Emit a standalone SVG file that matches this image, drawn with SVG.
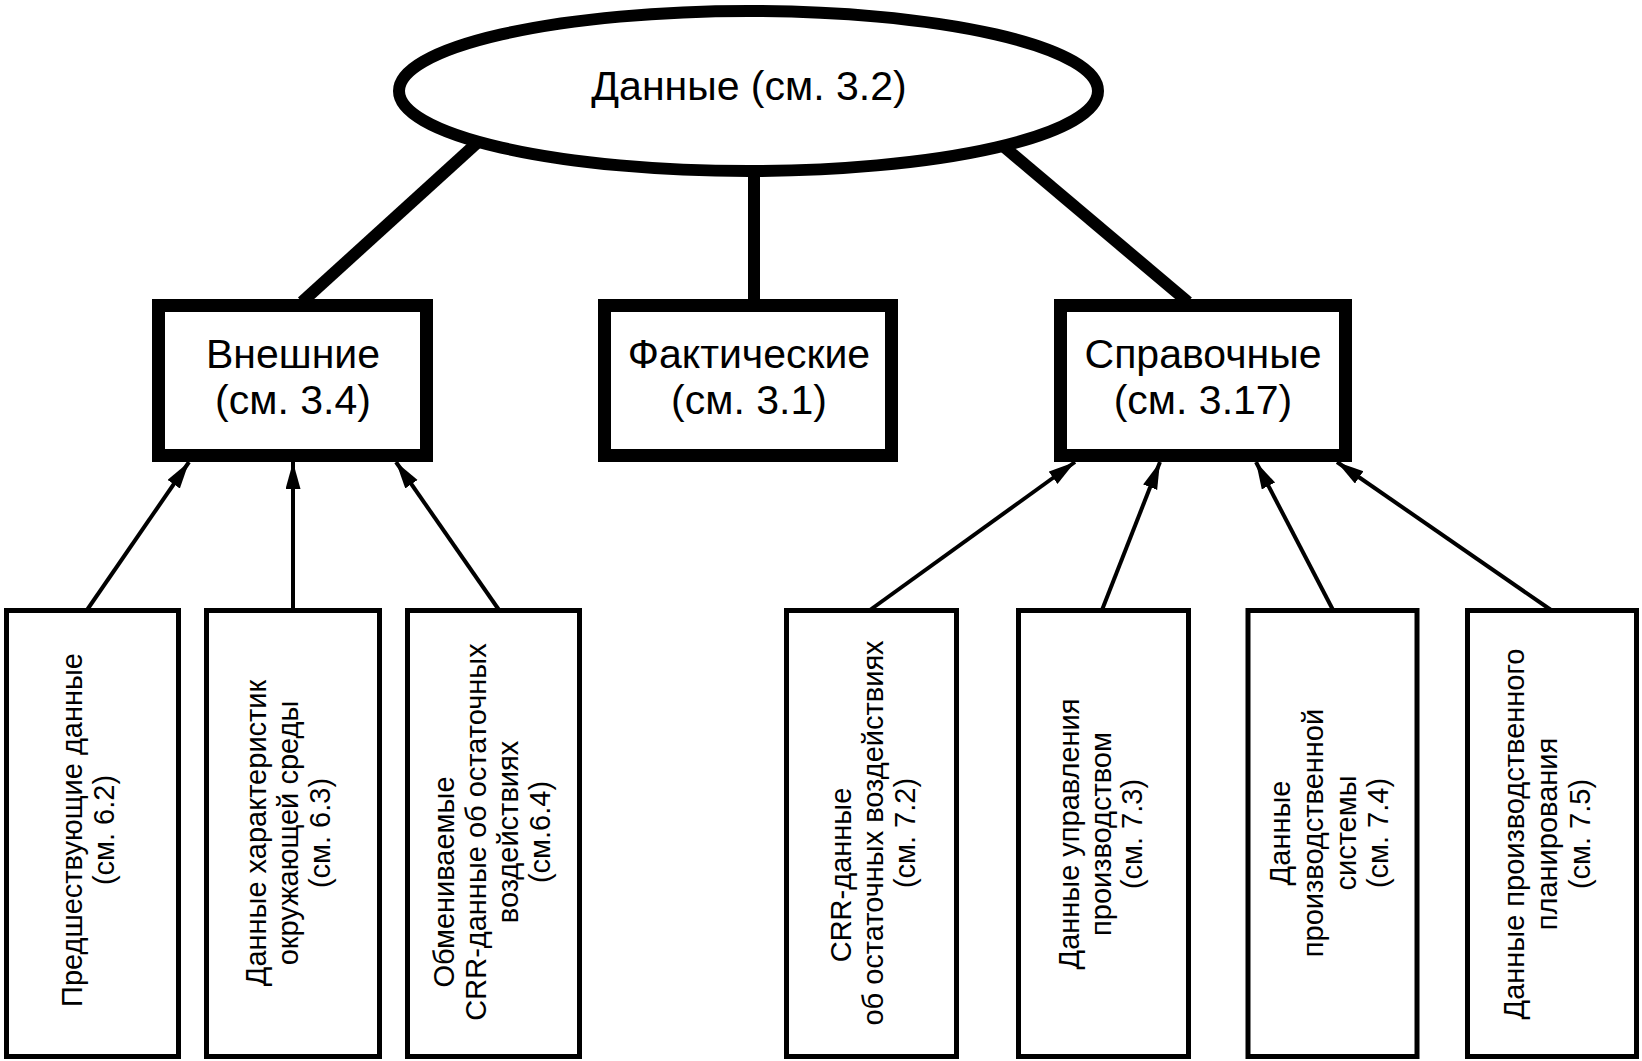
<svg xmlns="http://www.w3.org/2000/svg" width="1642" height="1061" viewBox="0 0 1642 1061">
<style>
.t{font-family:"Liberation Sans",Arial,sans-serif;fill:#000}
.big{font-size:41px;text-anchor:middle}
.sm{font-size:29px;text-anchor:middle}
.thick{stroke:#000;stroke-width:12;fill:none}
.arr{stroke:#000;stroke-width:4;fill:none;marker-end:url(#ah)}
.tb{fill:#fff;stroke:#000;stroke-width:13}
.bb{fill:#fff;stroke:#000;stroke-width:5}
</style>
<defs>
<marker id="ah" markerUnits="userSpaceOnUse" markerWidth="28" markerHeight="16" refX="27" refY="7.5" orient="auto">
<path d="M0,0 L27,7.5 L0,15 z" fill="#000"/>
</marker>
</defs>
<rect width="1642" height="1061" fill="#fff"/>
<g id="connectors">
<line class="thick" x1="478" y1="142" x2="302" y2="302"/>
<line class="thick" x1="754" y1="170" x2="754" y2="302"/>
<line class="thick" x1="1003" y1="146" x2="1188" y2="302"/>
<line class="arr" x1="87" y1="610" x2="189" y2="462"/>
<line class="arr" x1="293" y1="610" x2="293" y2="462"/>
<line class="arr" x1="499" y1="610" x2="396" y2="462"/>
<line class="arr" x1="870" y1="610" x2="1075" y2="462"/>
<line class="arr" x1="1102" y1="610" x2="1160" y2="462"/>
<line class="arr" x1="1333" y1="610" x2="1256" y2="462"/>
<line class="arr" x1="1551" y1="610" x2="1337" y2="462"/>
</g>
<g id="data">
<ellipse cx="748.5" cy="91" rx="349.5" ry="80" fill="#fff" stroke="#000" stroke-width="12"/>
<text class="t big" x="749" y="100">Данные (см. 3.2)</text>
</g>
<g id="external">
<rect class="tb" x="158.5" y="305.5" width="268" height="150"/>
<text class="t big" x="293" y="368">Внешние<tspan x="293" y="414">(см. 3.4)</tspan></text>
</g>
<g id="factual">
<rect class="tb" x="604.5" y="305.5" width="287" height="150"/>
<text class="t big" x="749" y="368">Фактические<tspan x="749" y="414">(см. 3.1)</tspan></text>
</g>
<g id="reference">
<rect class="tb" x="1060.5" y="305.5" width="285" height="150"/>
<text class="t big" x="1203" y="368">Справочные<tspan x="1203" y="414">(см. 3.17)</tspan></text>
</g>
<g id="b1">
<rect class="bb" x="6.5" y="610.5" width="172" height="446"/>
<text class="t sm" transform="translate(0 830) rotate(-90)"><tspan x="0" y="82">Предшествующие данные</tspan><tspan x="0" y="114">(см. 6.2)</tspan></text>
</g>
<g id="b2">
<rect class="bb" x="206.5" y="610.5" width="173" height="446"/>
<text class="t sm" transform="translate(0 833) rotate(-90)"><tspan x="0" y="266">Данные характеристик</tspan><tspan x="0" y="298">окружающей среды</tspan><tspan x="0" y="330">(см. 6.3)</tspan></text>
</g>
<g id="b3">
<rect class="bb" x="407.5" y="610.5" width="172" height="446"/>
<text class="t sm" transform="translate(0 832) rotate(-90)"><tspan x="-50" y="454">Обмениваемые</tspan><tspan x="0" y="486">CRR-данные об остаточных</tspan><tspan x="0" y="518">воздействиях</tspan><tspan x="0" y="550">(см.6.4)</tspan></text>
</g>
<g id="b4">
<rect class="bb" x="786.5" y="610.5" width="170" height="446"/>
<text class="t sm" transform="translate(0 833) rotate(-90)"><tspan x="-42" y="851">CRR-данные</tspan><tspan x="0" y="883">об остаточных воздействиях</tspan><tspan x="0" y="915">(см. 7.2)</tspan></text>
</g>
<g id="b5">
<rect class="bb" x="1018.5" y="610.5" width="170" height="446"/>
<text class="t sm" transform="translate(0 834) rotate(-90)"><tspan x="0" y="1079">Данные управления</tspan><tspan x="0" y="1111">производством</tspan><tspan x="0" y="1142">(см. 7.3)</tspan></text>
</g>
<g id="b6">
<rect class="bb" x="1248" y="610.5" width="169" height="446"/>
<text class="t sm" transform="translate(0 833) rotate(-90)"><tspan x="0" y="1290">Данные</tspan><tspan x="0" y="1323">производственной</tspan><tspan x="0" y="1356">системы</tspan><tspan x="0" y="1388">(см. 7.4)</tspan></text>
</g>
<g id="b7">
<rect class="bb" x="1467.5" y="610.5" width="169" height="446"/>
<text class="t sm" transform="translate(0 834) rotate(-90)"><tspan x="0" y="1524">Данные производственного</tspan><tspan x="0" y="1557">планирования</tspan><tspan x="0" y="1590">(см. 7.5)</tspan></text>
</g>
</svg>
